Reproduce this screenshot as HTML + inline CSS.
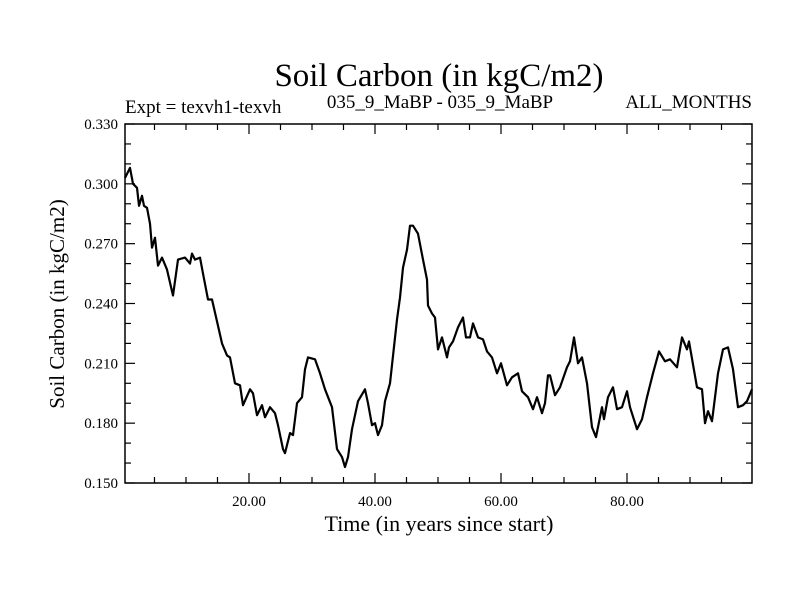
<!DOCTYPE html>
<html><head><meta charset="utf-8"><style>
body{margin:0;background:#fff}
svg text{font-family:"Liberation Serif",serif;fill:#000}
</style></head><body>
<svg width="800" height="600" viewBox="0 0 800 600" id="chart">
<rect width="800" height="600" fill="#fff"/>
<text x="439" y="86" font-size="33" text-anchor="middle">Soil Carbon (in kgC/m2)</text>
<text x="125" y="113" font-size="19">Expt = texvh1-texvh</text>
<text x="440" y="108" font-size="19" text-anchor="middle">035_9_MaBP - 035_9_MaBP</text>
<text x="752" y="108" font-size="19" text-anchor="end">ALL_MONTHS</text>
<text transform="translate(64,304) rotate(-90)" font-size="21" text-anchor="middle">Soil Carbon (in kgC/m2)</text>
<text x="439" y="531" font-size="22" text-anchor="middle">Time (in years since start)</text>
<g id="axes"></g>
<rect x="125" y="124" width="627" height="359" fill="none" stroke="#000" stroke-width="1.5"/>
</svg>
<script>
const years=[0.32,1.11,1.59,2.22,2.54,3.02,3.33,3.81,4.29,4.60,5.08,5.56,6.19,6.98,7.94,8.73,9.84,10.63,10.95,11.43,12.22,12.70,13.49,14.13,14.92,15.71,16.51,16.98,17.78,18.57,19.05,20.16,20.63,21.27,22.06,22.54,23.33,24.13,24.60,25.40,25.71,26.51,26.98,27.62,28.41,28.89,29.37,30.48,31.27,32.06,33.17,33.97,34.76,35.24,35.71,36.35,37.30,38.41,38.89,39.52,40.00,40.48,41.11,41.59,42.38,43.49,43.97,44.44,45.08,45.56,46.03,46.83,47.62,48.25,48.41,49.05,49.52,50.00,50.63,51.43,51.75,52.38,53.17,53.97,54.44,55.08,55.56,56.35,57.14,57.78,58.57,59.37,60.00,60.95,61.75,62.70,63.33,64.29,65.08,65.71,66.51,66.98,67.46,67.78,68.57,69.37,70.48,70.95,71.59,72.22,72.86,73.65,74.44,75.08,76.03,76.35,76.98,77.78,78.41,79.21,80.00,80.48,81.59,82.38,83.17,84.13,85.08,86.03,86.83,87.94,88.73,89.52,89.84,91.11,91.90,92.38,92.86,93.49,94.44,95.24,96.03,96.83,97.62,98.41,99.05,99.84];
const carbon=[0.303,0.308,0.300,0.298,0.289,0.294,0.289,0.288,0.280,0.268,0.273,0.259,0.263,0.257,0.244,0.262,0.263,0.260,0.265,0.262,0.263,0.255,0.242,0.242,0.231,0.220,0.214,0.213,0.200,0.199,0.189,0.197,0.195,0.184,0.189,0.183,0.188,0.185,0.179,0.167,0.165,0.175,0.174,0.190,0.193,0.207,0.213,0.212,0.205,0.197,0.188,0.167,0.163,0.158,0.163,0.177,0.191,0.197,0.190,0.179,0.180,0.174,0.179,0.191,0.200,0.232,0.243,0.258,0.267,0.279,0.279,0.275,0.262,0.252,0.239,0.235,0.233,0.217,0.223,0.213,0.218,0.221,0.228,0.233,0.223,0.223,0.230,0.223,0.222,0.216,0.213,0.205,0.210,0.199,0.203,0.205,0.196,0.193,0.187,0.193,0.185,0.190,0.204,0.204,0.194,0.198,0.208,0.211,0.223,0.210,0.213,0.200,0.178,0.173,0.188,0.182,0.193,0.198,0.187,0.188,0.196,0.188,0.177,0.182,0.193,0.205,0.216,0.211,0.212,0.208,0.223,0.217,0.221,0.198,0.197,0.180,0.186,0.181,0.205,0.217,0.218,0.207,0.188,0.189,0.191,0.197];
const xTickVals=[20,40,60,80];
const xTickLabels=["20.00","40.00","60.00","80.00"];
const yTickVals=[0.15,0.18,0.21,0.24,0.27,0.30,0.33];
const yTickLabels=["0.150","0.180","0.210","0.240","0.270","0.300","0.330"];
const L=125,R=752,T=124,B=483,X0=0.32,X1=99.84,Y0=0.15,Y1=0.33;
function sx(v){return L+(v-X0)/(X1-X0)*(R-L);}
function sy(v){return B-(v-Y0)/(Y1-Y0)*(B-T);}
const NS="http://www.w3.org/2000/svg";
const g=document.getElementById('axes');
function ln(x1,y1,x2,y2,name){const l=document.createElementNS(NS,'line');l.setAttribute('x1',x1);l.setAttribute('y1',y1);l.setAttribute('x2',x2);l.setAttribute('y2',y2);l.setAttribute('stroke','#000');l.setAttribute('stroke-width','1.2');


g.appendChild(l);}
function tx(x,y,s,anchor,name){const t=document.createElementNS(NS,'text');t.setAttribute('x',x);t.setAttribute('y',y);t.setAttribute('font-size','15');t.setAttribute('text-anchor',anchor);t.textContent=s;


g.appendChild(t);}
for(let v=5;v<X1;v+=5){const x=sx(v);const major=v%20===0;const len=major?10:6;ln(x,B,x,B-len,'x-tick');ln(x,T,x,T+len,'x-tick-top');}
xTickVals.forEach((v,i)=>tx(sx(v),B+23,xTickLabels[i],'middle','x-tick-label'));
for(let k=0;k<=18;k++){const v=Y0+k*0.01;const y=sy(v);const major=k%3===0;const len=major?10:6;ln(L,y,L+len,y,'y-tick');ln(R,y,R-len,y,'y-tick-right');}
yTickVals.forEach((v,i)=>tx(L-7,sy(v)+5,yTickLabels[i],'end','y-tick-label'));
const p=document.createElementNS(NS,'polyline');
p.setAttribute('points',years.map((t,i)=>sx(t).toFixed(1)+','+sy(carbon[i]).toFixed(1)).join(' '));
p.setAttribute('fill','none');p.setAttribute('stroke','#000');p.setAttribute('stroke-width','2.2');p.setAttribute('stroke-linejoin','round');


document.getElementById('chart').appendChild(p);
</script>
</body></html>
